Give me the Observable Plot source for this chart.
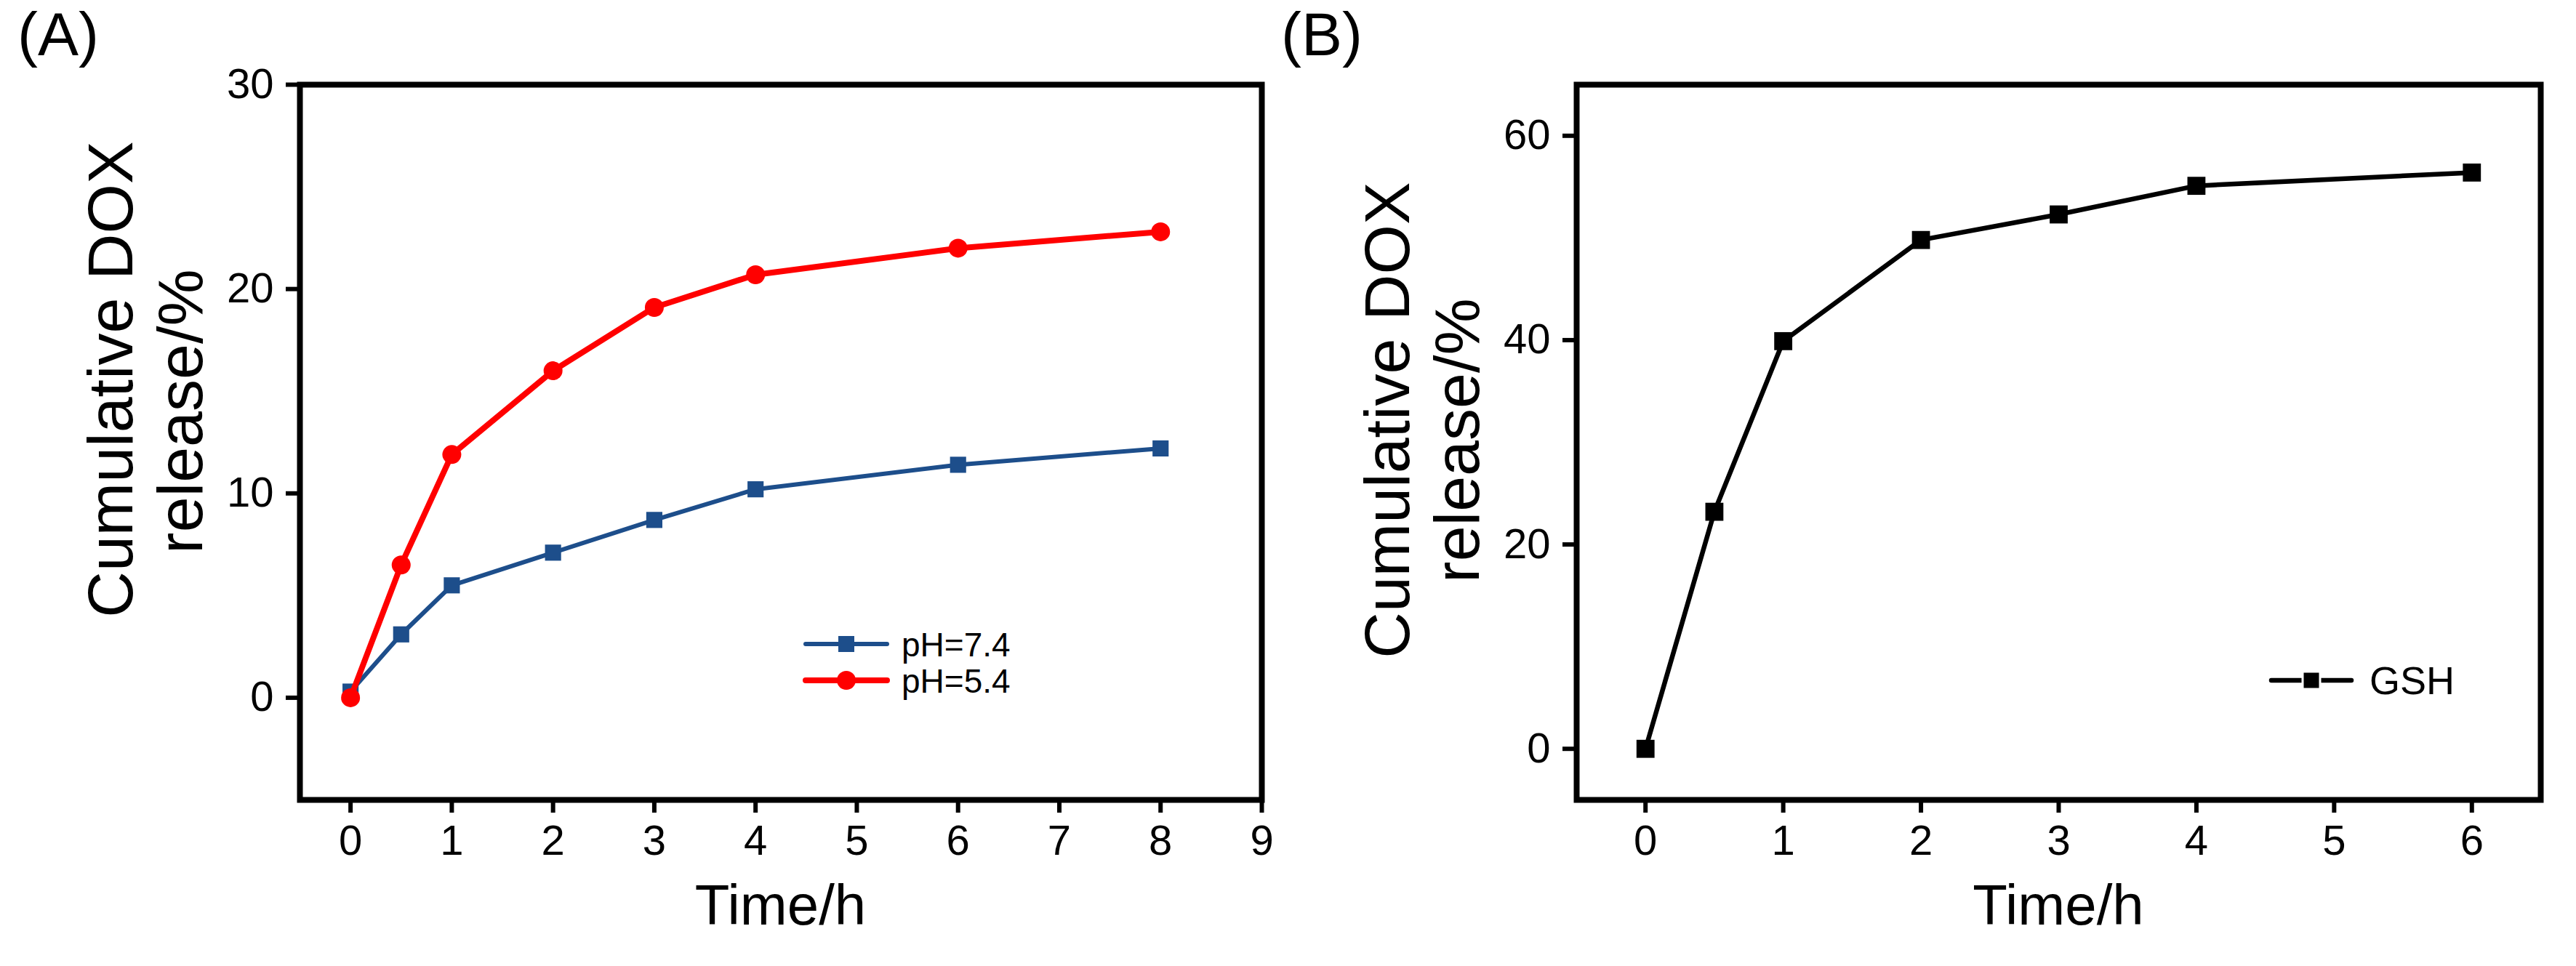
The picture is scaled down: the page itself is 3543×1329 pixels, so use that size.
<!DOCTYPE html>
<html>
<head>
<meta charset="utf-8">
<script src="https://cdn.jsdelivr.net/npm/d3@7"></script>
<script src="https://cdn.jsdelivr.net/npm/@observablehq/plot@0.6"></script>
<style>
  html, body { margin: 0; padding: 0; background: white; }
  #wrap { position: relative; width: 3543px; height: 1329px; overflow: hidden; background: white; }
  #wrap svg { position: absolute; top: 0; overflow: visible; }
</style>
</head>
<body>
<div id="wrap"></div>
<script>
// ---- Data ----
const timesA = [0, 0.5, 1, 2, 3, 4, 6, 8];
const ph74 = [0.3, 3.1, 5.5, 7.1, 8.7, 10.2, 11.4, 12.2];
const ph54 = [0, 6.5, 11.9, 16.0, 19.1, 20.7, 22.0, 22.8];
const timesB = [0, 0.5, 1, 2, 3, 4, 6];
const gsh = [0, 23.2, 39.9, 49.8, 52.3, 55.1, 56.4];

const xTicksA = [0, 1, 2, 3, 4, 5, 6, 7, 8, 9];
const yTicksA = [0, 10, 20, 30];
const xTicksB = [0, 1, 2, 3, 4, 5, 6];
const yTicksB = [0, 20, 40, 60];

const seriesNames = ["pH=7.4", "pH=5.4"];
const seriesNameB = "GSH";
const xTitle = "Time/h";
const yTitle = ["Cumulative DOX", "release/%"];

const BLUE = "#1d4e8b";
const RED = "#ff0000";
const FONT = "'Liberation Sans', Arial, Helvetica, sans-serif";

const rowsBlue = timesA.map((t, i) => ({t, v: ph74[i]}));
const rowsRed = timesA.map((t, i) => ({t, v: ph54[i]}));
const rowsB = timesB.map((t, i) => ({t, v: gsh[i]}));

const H = 1329, TOP = 116, BOTTOM = 1100;
const wrap = document.getElementById("wrap");

function axes(xTicks, yTicks) {
  return [
    Plot.axisX({ticks: xTicks, tickSize: 18, tickPadding: 16, fontSize: 58, strokeWidth: 6, label: null, tickFormat: d => String(d)}),
    Plot.axisY({ticks: yTicks, tickSize: 19, tickPadding: 17, fontSize: 58, strokeWidth: 6, label: null, tickFormat: d => String(d)}),
    Plot.frame({stroke: "black", strokeWidth: 8})
  ];
}

// ---- Panel A ----
const wA = 1755;
const mA = {left: 412, right: wA - 1735, top: TOP, bottom: H - BOTTOM};
const plotA = Plot.plot({
  width: wA, height: H,
  marginLeft: mA.left, marginRight: mA.right, marginTop: mA.top, marginBottom: mA.bottom,
  style: {fontFamily: FONT, fontSize: "58px", background: "transparent", color: "black"},
  x: {domain: [-0.5, 9]},
  y: {domain: [-5, 30]},
  marks: [
    ...axes(xTicksA, yTicksA),
    Plot.line(rowsBlue, {x: "t", y: "v", stroke: BLUE, strokeWidth: 6}),
    Plot.dot(rowsBlue, {x: "t", y: "v", symbol: "square", r: 12.5, fill: BLUE, stroke: "none"}),
    Plot.line(rowsRed, {x: "t", y: "v", stroke: RED, strokeWidth: 8}),
    Plot.dot(rowsRed, {x: "t", y: "v", symbol: "circle", r: 13, fill: RED, stroke: "none"})
  ]
});
plotA.style.left = "0px";
wrap.appendChild(plotA);

// ---- Panel B ----
const offB = 1755;
const wB = 3543 - offB;
const mB = {left: 2168 - offB, right: 3543 - 3494, top: TOP, bottom: H - BOTTOM};
const plotB = Plot.plot({
  width: wB, height: H,
  marginLeft: mB.left, marginRight: mB.right, marginTop: mB.top, marginBottom: mB.bottom,
  style: {fontFamily: FONT, fontSize: "58px", background: "transparent", color: "black"},
  x: {domain: [-0.5, 6.5]},
  y: {domain: [-5, 65]},
  marks: [
    ...axes(xTicksB, yTicksB),
    Plot.line(rowsB, {x: "t", y: "v", stroke: "black", strokeWidth: 6.5}),
    Plot.dot(rowsB, {x: "t", y: "v", symbol: "square", r: 14, fill: "black", stroke: "none"})
  ]
});
plotB.style.left = offB + "px";
wrap.appendChild(plotB);

// ---- Titles, panel labels, legends ----
function decorate(svg, m, w, label, labelX, c1, c2) {
  const s = d3.select(svg);
  const g = s.append("g").attr("font-family", FONT).attr("fill", "black").attr("text-anchor", "start");
  const midX = (m.left + (w - m.right)) / 2;
  // y title (two lines, rotated)
  g.append("text").attr("transform", `translate(${m.left - 230},${c1}) rotate(-90)`)
    .attr("text-anchor", "middle").attr("font-size", 88).text(yTitle[0]);
  g.append("text").attr("transform", `translate(${m.left - 134},${c2}) rotate(-90)`)
    .attr("text-anchor", "middle").attr("font-size", 88).text(yTitle[1]);
  // x title
  g.append("text").attr("x", midX).attr("y", 1272).attr("text-anchor", "middle")
    .attr("font-size", 78).text(xTitle);
  // panel label
  g.append("text").attr("x", labelX).attr("y", 76).attr("text-anchor", "start")
    .attr("font-size", 84).text(label);
  return g;
}

const gA = decorate(plotA, mA, wA, "(A)", 24, 522, 566);
const gB = decorate(plotB, mB, wB, "(B)", 1762 - offB, 578, 606);

// Legend A
const legA = [
  {name: seriesNames[0], color: BLUE, sym: "square", y: 886, sw: 6},
  {name: seriesNames[1], color: RED, sym: "circle", y: 936, sw: 8}
];
legA.forEach(d => {
  gA.append("line").attr("x1", 1108).attr("x2", 1220).attr("y1", d.y).attr("y2", d.y)
    .attr("stroke", d.color).attr("stroke-width", d.sw).attr("stroke-linecap", "round");
  if (d.sym === "square") {
    gA.append("rect").attr("x", 1164 - 11).attr("y", d.y - 11).attr("width", 22).attr("height", 22).attr("fill", d.color);
  } else {
    gA.append("circle").attr("cx", 1164).attr("cy", d.y).attr("r", 13).attr("fill", d.color);
  }
  gA.append("text").attr("x", 1240).attr("y", d.y).attr("dy", "0.36em").attr("text-anchor", "start")
    .attr("font-size", 46).text(d.name);
});

// Legend B
const lbY = 936;
gB.append("line").attr("x1", 3124 - offB).attr("x2", 3234 - offB).attr("y1", lbY).attr("y2", lbY)
  .attr("stroke", "black").attr("stroke-width", 6.5).attr("stroke-linecap", "round");
gB.append("rect").attr("x", 3179 - offB - 12).attr("y", lbY - 12).attr("width", 24).attr("height", 24)
  .attr("fill", "black").attr("stroke", "white").attr("stroke-width", 3);
gB.append("text").attr("x", 3259 - offB).attr("y", lbY).attr("dy", "0.36em").attr("text-anchor", "start")
  .attr("font-size", 54).text(seriesNameB);
</script>
</body>
</html>
